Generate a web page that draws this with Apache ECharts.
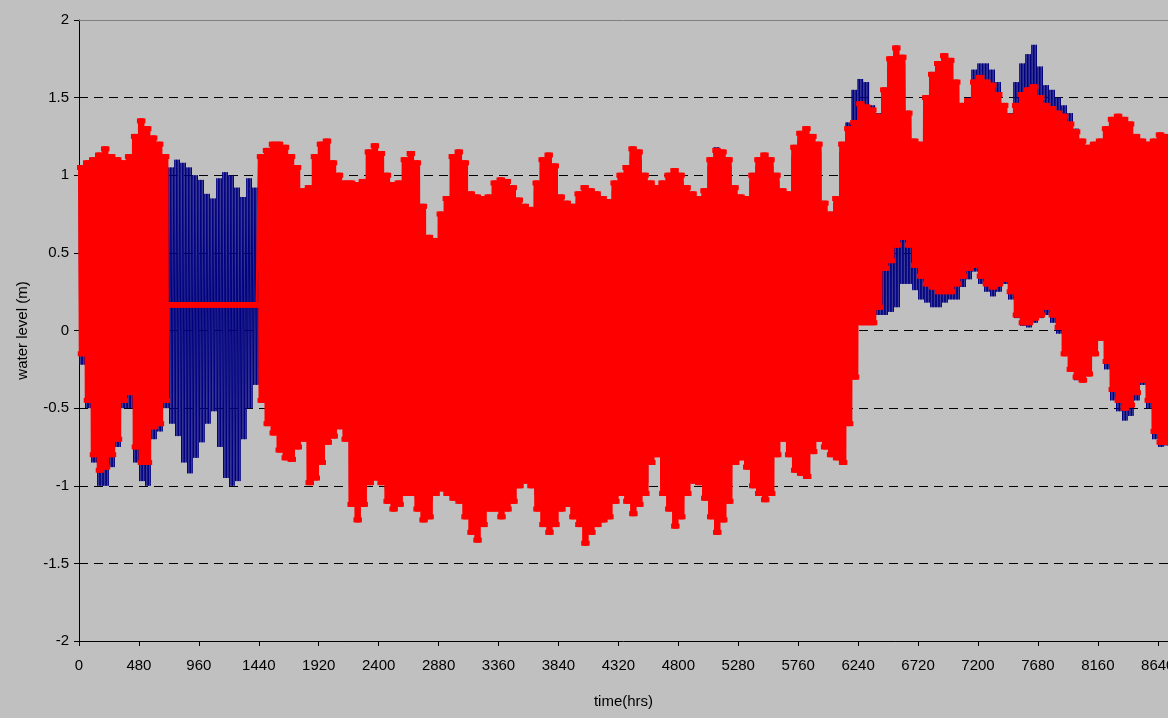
<!DOCTYPE html>
<html>
<head>
<meta charset="utf-8">
<script src="https://cdn.jsdelivr.net/npm/echarts@6/dist/echarts.min.js"></script>
<style>
html,body{margin:0;padding:0;background:#C0C0C0;}
#c{width:1168px;height:718px;}
</style>
</head>
<body>
<div id="c"></div>
<script>
// Envelope values (m), one per 48-hour block starting at hour 0.
// Within each block the tide alternates between the block's high and low every 6 h.
const BLOCK_HOURS = 48;
const TIDE_STEP = 6;

const xTicks = [0,480,960,1440,1920,2400,2880,3360,3840,4320,4800,5280,5760,6240,6720,7200,7680,8160,8640];
const yTicks = [-2,-1.5,-1,-0.5,0,0.5,1,1.5,2];

const observedHigh = [
1.00,1.02,1.05,1.08,1.10,1.05,1.02,1.00,1.05,1.18,1.28,1.25,1.18,1.12,1.08,1.05,
1.10,1.08,1.05,1.00,0.97,0.88,0.85,0.98,1.02,1.00,0.92,0.86,0.98,0.92,
1.05,1.10,1.15,1.15,1.12,1.08,1.00,0.86,0.88,1.08,
1.16,1.18,1.04,0.96,0.90,0.90,0.90,0.92,1.10,1.14,
1.10,0.96,0.90,0.90,1.05,1.10,1.02,0.76,0.56,0.54,
0.70,0.80,1.06,1.10,1.02,0.84,0.82,0.80,0.82,0.90,
0.92,0.92,0.88,0.80,0.76,0.74,0.90,1.05,1.08,1.02,
0.82,0.78,0.76,0.84,0.88,0.86,0.84,0.80,0.80,0.90,
0.96,1.00,1.12,1.10,0.96,0.90,0.88,0.90,0.96,1.00,
0.96,0.88,0.84,0.82,0.86,1.06,1.18,1.12,1.06,0.88,
0.82,0.82,0.96,1.06,1.10,1.06,0.96,0.86,0.84,1.12,
1.22,1.25,1.20,1.15,0.78,0.72,0.82,1.15,1.34,1.55,
1.62,1.60,1.45,1.40,1.50,1.70,1.78,1.72,1.38,1.20,
1.20,1.48,1.62,1.70,1.74,1.70,1.58,1.45,1.50,1.68,
1.72,1.72,1.68,1.60,1.45,1.40,1.60,1.72,1.78,1.84,
1.70,1.58,1.55,1.50,1.45,1.40,1.30,1.20,1.15,1.15,
1.20,1.28,1.34,1.36,1.34,1.30,1.22,1.20,1.18,1.20,
1.22,1.22,1.20];

const observedLow = [
-0.22,-0.50,-0.85,-1.00,-1.00,-0.88,-0.75,-0.50,-0.50,-0.85,-0.97,-1.00,-0.70,-0.65,-0.50,-0.60,
-0.68,-0.85,-0.92,-0.82,-0.72,-0.60,-0.52,-0.75,-0.95,-1.00,-0.97,-0.70,-0.50,-0.35,
-0.40,-0.55,-0.62,-0.72,-0.78,-0.78,-0.70,-0.66,-0.90,-0.90,
-0.80,-0.68,-0.64,-0.58,-0.66,-1.00,-1.10,-1.02,-0.92,-0.90,
-0.92,-1.02,-1.10,-1.05,-0.98,-0.98,-1.08,-1.12,-1.10,-0.98,
-0.95,-0.98,-1.00,-1.02,-1.10,-1.20,-1.25,-1.15,-1.08,-1.08,
-1.12,-1.08,-1.02,-0.94,-0.90,-0.94,-1.06,-1.15,-1.20,-1.15,
-1.06,-1.04,-1.10,-1.15,-1.25,-1.20,-1.15,-1.12,-1.10,-1.02,
-0.98,-1.02,-1.08,-1.04,-0.98,-0.80,-0.76,-0.98,-1.06,-1.15,
-1.10,-0.98,-0.90,-0.92,-1.00,-1.10,-1.20,-1.12,-1.02,-0.80,
-0.78,-0.82,-0.94,-0.98,-1.00,-0.98,-0.76,-0.66,-0.75,-0.85,
-0.86,-0.88,-0.74,-0.66,-0.70,-0.75,-0.76,-0.80,-0.55,-0.25,
0.10,0.10,0.10,0.10,0.10,0.12,0.15,0.30,0.30,0.26,
0.20,0.18,0.15,0.15,0.18,0.20,0.20,0.28,0.33,0.38,
0.30,0.25,0.22,0.25,0.30,0.20,0.08,0.03,0.02,0.05,
0.08,0.10,0.05,-0.02,-0.15,-0.25,-0.32,-0.30,-0.22,-0.10,
-0.05,-0.25,-0.45,-0.52,-0.58,-0.55,-0.45,-0.35,-0.50,-0.70,
-0.75,-0.74,-0.72];

const modelHigh = [
1.05,1.08,1.10,1.13,1.17,1.12,1.10,1.08,1.12,1.25,1.35,1.30,1.24,1.20,1.12,
0.165,0.165,0.165,0.165,0.165,0.165,0.165,0.165,0.165,0.165,0.165,0.165,0.165,0.165,0.165,
1.12,1.16,1.20,1.20,1.18,1.12,1.05,0.90,0.92,1.12,
1.20,1.22,1.08,1.00,0.95,0.95,0.94,0.96,1.15,1.19,
1.14,1.00,0.94,0.95,1.10,1.14,1.08,0.80,0.60,0.58,
0.75,0.85,1.12,1.15,1.08,0.88,0.86,0.85,0.86,0.95,
0.97,0.96,0.92,0.84,0.80,0.78,0.95,1.10,1.13,1.06,
0.86,0.82,0.80,0.88,0.92,0.90,0.88,0.85,0.83,0.95,
1.00,1.05,1.17,1.15,1.00,0.95,0.92,0.95,1.00,1.03,
1.00,0.92,0.88,0.85,0.90,1.10,1.16,1.15,1.10,0.92,
0.86,0.85,1.00,1.10,1.13,1.10,1.00,0.90,0.88,1.18,
1.27,1.30,1.25,1.20,0.82,0.75,0.85,1.20,1.30,1.34,
1.46,1.44,1.42,1.38,1.55,1.75,1.82,1.76,1.40,1.22,
1.20,1.50,1.65,1.72,1.77,1.74,1.60,1.45,1.48,1.60,
1.63,1.60,1.58,1.52,1.45,1.38,1.45,1.52,1.55,1.57,
1.50,1.45,1.43,1.40,1.38,1.33,1.28,1.22,1.18,1.20,
1.22,1.30,1.36,1.38,1.36,1.33,1.25,1.22,1.20,1.22,
1.26,1.25,1.25];

const modelLow = [
-0.15,-0.45,-0.80,-0.90,-0.88,-0.80,-0.70,-0.45,-0.40,-0.75,-0.85,-0.85,-0.62,-0.60,-0.45,
0.165,0.165,0.165,0.165,0.165,0.165,0.165,0.165,0.165,0.165,0.165,0.165,0.165,0.165,0.165,
-0.45,-0.60,-0.66,-0.77,-0.82,-0.83,-0.75,-0.70,-0.98,-0.95,
-0.85,-0.72,-0.68,-0.62,-0.70,-1.12,-1.22,-1.12,-0.98,-0.95,
-0.98,-1.10,-1.15,-1.12,-1.05,-1.05,-1.15,-1.22,-1.20,-1.05,
-1.02,-1.05,-1.08,-1.10,-1.20,-1.30,-1.35,-1.25,-1.15,-1.15,
-1.20,-1.15,-1.10,-1.00,-0.97,-1.00,-1.15,-1.25,-1.30,-1.25,
-1.15,-1.12,-1.20,-1.25,-1.37,-1.30,-1.25,-1.22,-1.20,-1.10,
-1.05,-1.10,-1.18,-1.12,-1.05,-0.85,-0.80,-1.05,-1.15,-1.26,
-1.20,-1.05,-0.97,-0.98,-1.08,-1.20,-1.30,-1.22,-1.10,-0.85,
-0.82,-0.88,-1.00,-1.05,-1.09,-1.05,-0.80,-0.70,-0.80,-0.90,
-0.92,-0.94,-0.78,-0.70,-0.75,-0.80,-0.82,-0.85,-0.60,-0.30,
0.05,0.05,0.05,0.15,0.40,0.45,0.55,0.60,0.55,0.42,
0.35,0.30,0.28,0.25,0.25,0.25,0.30,0.35,0.40,0.42,
0.35,0.30,0.28,0.30,0.33,0.25,0.10,0.05,0.05,0.08,
0.10,0.15,0.10,0.02,-0.15,-0.25,-0.30,-0.32,-0.28,-0.15,
-0.05,-0.20,-0.38,-0.45,-0.50,-0.48,-0.40,-0.32,-0.45,-0.65,
-0.72,-0.72,-0.70];

function tidePoints(high, low) {
  const pts = [];
  const perBlock = BLOCK_HOURS / TIDE_STEP;
  for (let k = 0; k < high.length; k++) {
    for (let j = 0; j < perBlock; j++) {
      pts.push([k * BLOCK_HOURS + j * TIDE_STEP, j % 2 === 0 ? high[k] : low[k]]);
    }
  }
  return pts;
}

const font = "'Liberation Sans', Arial, sans-serif";
const X_MAX_VISIBLE = 8722;
const chart = echarts.init(document.getElementById('c'), null, {renderer: 'canvas'});
chart.setOption({
  backgroundColor: '#C0C0C0',
  animation: false,
  grid: {left: 79, top: 20, right: 0, height: 621, containLabel: false, outerBoundsMode: 'none'},
  xAxis: [{
    type: 'value', min: 0, max: X_MAX_VISIBLE, interval: 480, position: 'bottom',
    name: 'time(hrs)', nameLocation: 'middle', nameGap: 53,
    nameTextStyle: {color: '#000', fontSize: 15, fontFamily: font},
    axisLine: {show: true, onZero: false, lineStyle: {color: '#000', width: 1}},
    axisTick: {show: true, length: 5, lineStyle: {color: '#000'},
      customValues: xTicks},
    axisLabel: {color: '#000', fontSize: 15, fontFamily: font, margin: 17,
      customValues: xTicks, hideOverlap: false,
      formatter: v => xTicks.indexOf(v) >= 0 ? String(v) : ''},
    splitLine: {show: false}
  }, {
    type: 'value', min: 0, max: X_MAX_VISIBLE, position: 'top',
    axisLine: {show: true, onZero: false, lineStyle: {color: '#808080', width: 1}},
    axisTick: {show: false}, axisLabel: {show: false}, splitLine: {show: false}
  }],
  yAxis: {
    type: 'value', min: -2, max: 2, interval: 0.5,
    name: 'water level (m)', nameLocation: 'middle', nameGap: 49,
    nameTextStyle: {color: '#000', fontSize: 15, fontFamily: font},
    axisLine: {show: true, onZero: false, lineStyle: {color: '#000', width: 1}},
    axisTick: {show: true, length: 5, lineStyle: {color: '#000'}},
    axisLabel: {color: '#000', fontSize: 15, fontFamily: font, margin: 10,
      formatter: v => yTicks.indexOf(v) >= 0 ? String(v) : ''},
    splitLine: {show: true, showMinLine: false, showMaxLine: false,
      lineStyle: {color: '#000', width: 1, type: [9, 6]}}
  },
  series: [
    {
      name: 'observed', type: 'line', data: tidePoints(observedHigh, observedLow),
      showSymbol: false, silent: true,
      lineStyle: {color: '#000080', width: 1},
      itemStyle: {color: '#000080'}
    },
    {
      name: 'modelled', type: 'line', data: tidePoints(modelHigh, modelLow),
      showSymbol: true, symbol: 'rect', symbolSize: [4, 5], silent: true,
      lineStyle: {color: '#FF0000', width: 2},
      itemStyle: {color: '#FF0000'}
    }
  ]
});
</script>
</body>
</html>
